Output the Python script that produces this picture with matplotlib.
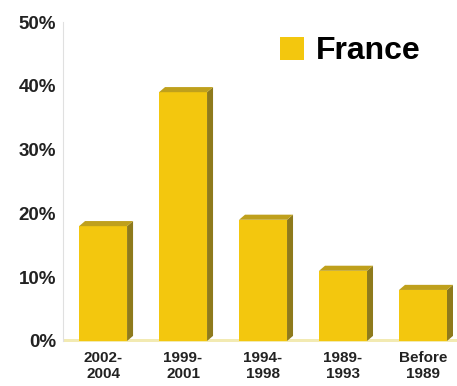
import matplotlib
matplotlib.use("Agg")
import matplotlib.pyplot as plt
from matplotlib.patches import Polygon, Rectangle

categories = ["2002-\n2004", "1999-\n2001", "1994-\n1998", "1989-\n1993", "Before\n1989"]
values = [18, 39, 19, 11, 8]
yticks = [0, 10, 20, 30, 40, 50]
ytick_labels = ["0%", "10%", "20%", "30%", "40%", "50%"]
series_name = "France"

front = "#F3C70E"
top_c = "#BFA01C"
side_c = "#8E7A1C"
floor_c = "#F2EAB2"
txt = "#222222"

fig = plt.figure(figsize=(4.57, 3.86), dpi=100)
ax = fig.add_axes([0.138, 0.1166, 0.862, 0.8264])
ax.set_xlim(-0.5, 4.425)
ax.set_ylim(0, 50)

w = 0.6
dx = 0.075
dy = 0.8
x = list(range(len(values)))
# floor
ax.add_patch(Rectangle((-0.5, -0.15), 5.0, 0.4, facecolor=floor_c, edgecolor="none", zorder=1, clip_on=False))
bars = ax.bar(x, values, width=w, color=front, edgecolor="none", zorder=3)
for b in bars:
    x0 = b.get_x(); x1 = x0 + b.get_width(); h = b.get_height()
    ax.add_patch(Polygon([(x1, 0), (x1 + dx, dy), (x1 + dx, h + dy), (x1, h)],
                         closed=True, facecolor=side_c, edgecolor="none", zorder=3))
    ax.add_patch(Polygon([(x0, h), (x0 + dx, h + dy), (x1 + dx, h + dy), (x1, h)],
                         closed=True, facecolor=top_c, edgecolor="none", zorder=3))

ax.set_yticks(yticks)
ax.set_yticklabels(ytick_labels, fontsize=13.5, fontweight="bold", color=txt, family="Liberation Sans")
ax.set_xticks(x)
ax.set_xticklabels(categories, fontsize=11, fontweight="bold", color=txt, family="Liberation Sans",
                   linespacing=1.25)
ax.tick_params(axis="both", length=0)
ax.tick_params(axis="y", pad=5)
ax.tick_params(axis="x", pad=7)
for s in ["top", "right", "bottom"]:
    ax.spines[s].set_visible(False)
ax.spines["left"].set_color("#e0e0e0")
ax.spines["left"].set_linewidth(0.8)

ax.legend([Rectangle((0, 0), 1, 1, facecolor=front)], [series_name], loc="upper right",
          bbox_to_anchor=(0.98, 1.045), frameon=False, handlelength=0.75, handleheight=0.75,
          handletextpad=0.35, prop={"family": "Liberation Sans", "weight": "bold", "size": 23})

fig.savefig("out.png", dpi=100)
